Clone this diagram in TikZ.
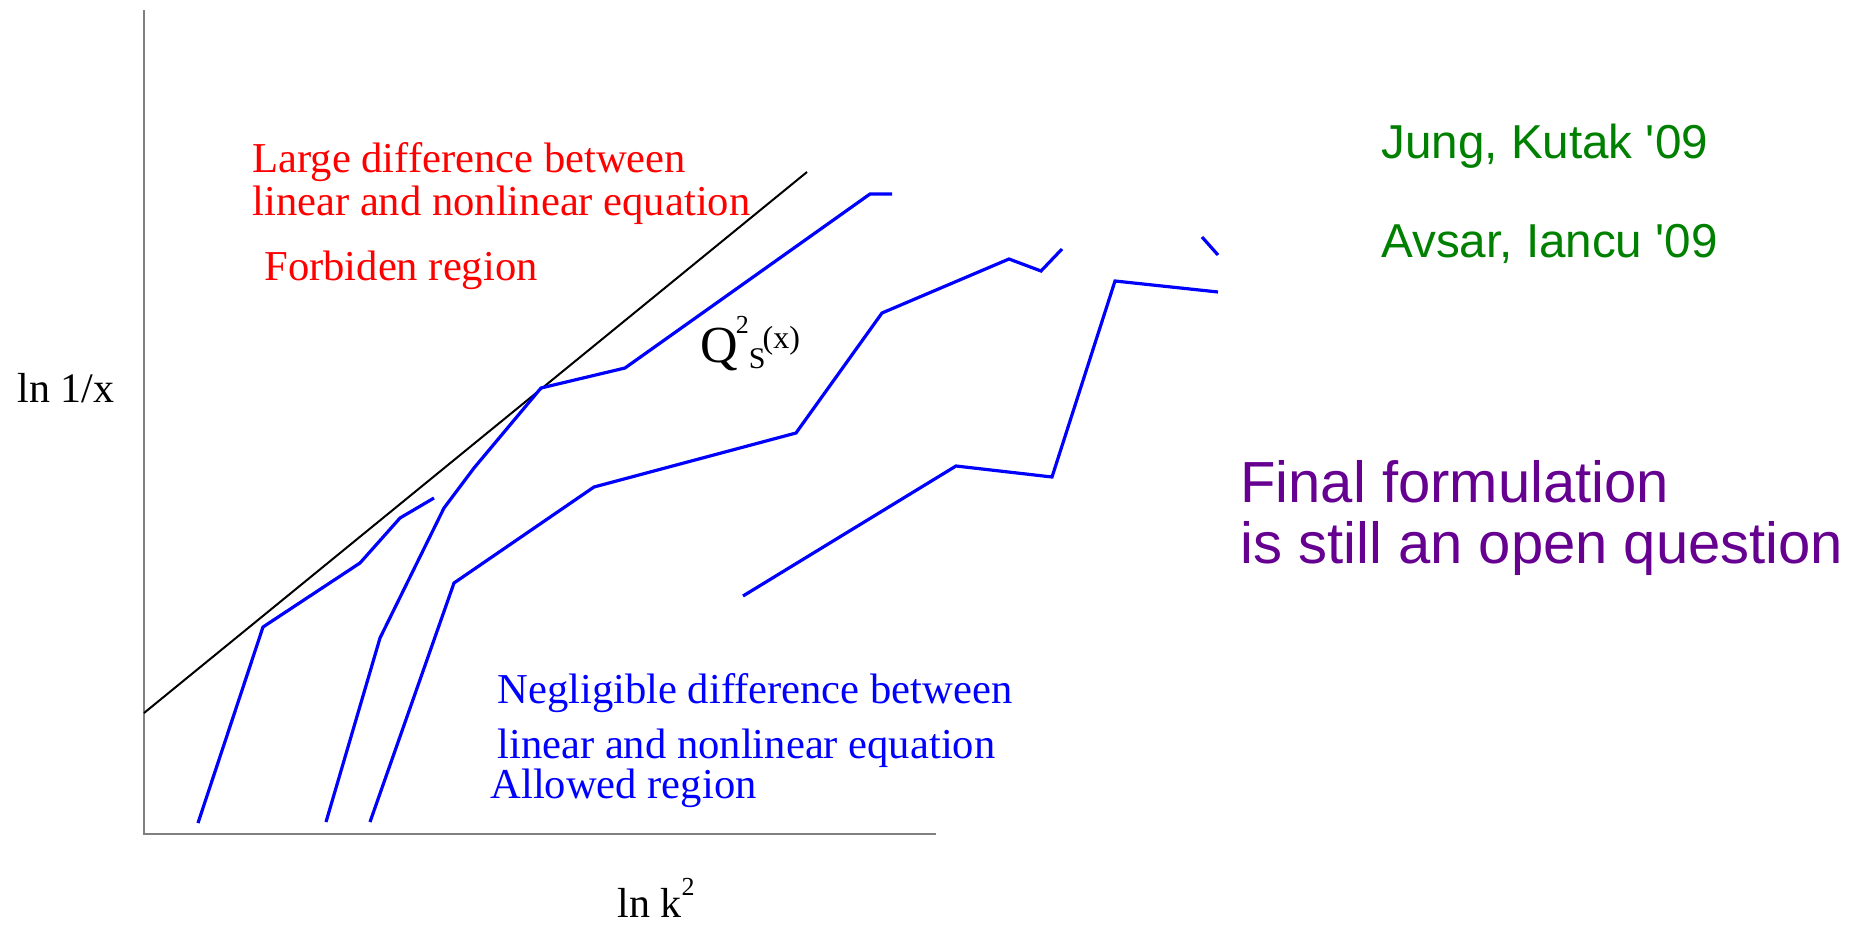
\documentclass[tikz,border=0pt]{standalone}
\usepackage{fontspec}
\setmainfont{Liberation Serif}
\newfontfamily\arialfont{Liberation Sans}
\definecolor{refgreen}{RGB}{0,128,0}
\definecolor{refpurple}{RGB}{102,0,145}
\definecolor{axisgray}{RGB}{128,128,128}
\begin{document}
\begin{tikzpicture}[x=0.5pt,y=-0.5pt,
  axisline/.style={draw=axisgray,line width=1pt},
  boundline/.style={draw=black,line width=1pt},
  curve/.style={draw=blue,line width=1.6pt},
  redtxt/.style={text=red,anchor=base west,inner sep=0pt,font=\fontsize{21.3}{21.3}\selectfont},
  bluetxt/.style={text=blue,anchor=base west,inner sep=0pt,font=\fontsize{21.3}{21.3}\selectfont},
  greentxt/.style={text=refgreen,anchor=base west,inner sep=0pt,font=\arialfont\fontsize{23.8}{23.8}\selectfont},
  purptxt/.style={text=refpurple,anchor=base west,inner sep=0pt,font=\arialfont\fontsize{29}{29}\selectfont},
  axlabel/.style={text=black,anchor=base west,inner sep=0pt,font=\fontsize{21}{21}\selectfont}]
\useasboundingbox (0,0) rectangle (1859,926);
% axes
\coordinate (ytop) at (144,10);
\coordinate (origin) at (144,834);
\coordinate (xend) at (936,834);
\draw[axisline] (ytop) -- (origin) -- (xend);
% boundary line
\coordinate (b1) at (144,713);
\coordinate (b2) at (807,172);
\draw[boundline] (b1) -- (b2);
% blue curves
\draw[curve] (198,823) -- (263,627) -- (360,563) -- (400,518) -- (434,498);
\draw[curve] (326,822) -- (380,638) -- (444,508) -- (474,468) -- (541,388) -- (625,368) -- (870,194) -- (892,194);
\draw[curve] (370,822) -- (454,583) -- (594,487) -- (796,433) -- (882,313) -- (1009,259) -- (1041,271) -- (1062,249);
\draw[curve] (743,596) -- (956,466) -- (1052,477) -- (1115,281) -- (1218,292);
\draw[curve] (1202,237) -- (1218,255);
% labels
\node[axlabel] (ylab) at (17,402) {ln 1/x};
\node[axlabel] (xlab) at (617,917) {ln k\raisebox{11pt}{\fontsize{13}{13}\selectfont 2}};
\node[anchor=base west,inner sep=0pt] (qs) at (700,362) {{\fontsize{26}{26}\selectfont Q}\kern-1pt\raisebox{14.5pt}{\fontsize{13}{13}\selectfont 2}\raisebox{-3pt}{\fontsize{15}{15}\selectfont S}\kern-1.5pt\raisebox{7pt}{\fontsize{16}{16}\selectfont (x)}};
\node[redtxt] (r1) at (252,172) {Large difference between};
\node[redtxt] (r2) at (252,215) {linear and nonlinear equation};
\node[redtxt] (r3) at (264,280) {Forbiden region};
\node[bluetxt] (n1) at (497,703) {Negligible difference between};
\node[bluetxt] (n2) at (497,758) {linear and nonlinear equation};
\node[bluetxt] (n3) at (490,798) {Allowed region};
\node[greentxt] (g1) at (1381,158) {Jung, Kutak \textquotesingle09};
\node[greentxt] (g2) at (1381,257) {Avsar, Iancu \textquotesingle09};
\node[purptxt] (p1) at (1240,502) {Final formulation};
\node[purptxt] (p2) at (1240,563) {is still an open question};
\end{tikzpicture}
\end{document}
